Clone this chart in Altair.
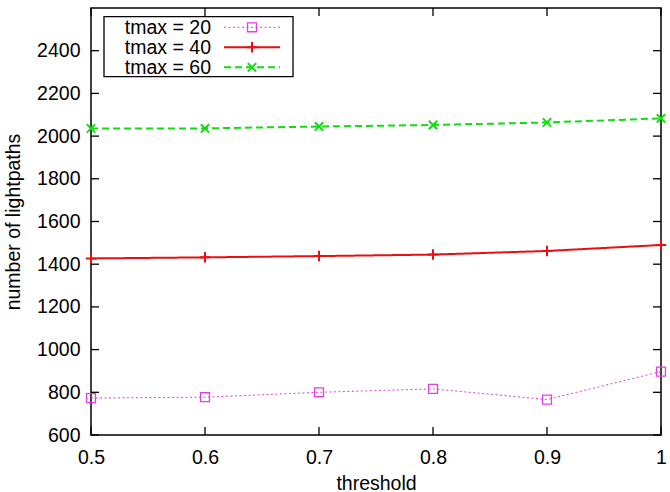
import altair as alt
import pandas as pd

thresholds = [0.5, 0.6, 0.7, 0.8, 0.9, 1.0]
tmax20 = [773, 777, 800, 816, 766, 897]
tmax40 = [1427, 1432, 1438, 1445, 1462, 1490]
tmax60 = [2036, 2036, 2045, 2052, 2064, 2083]
series_labels = ["tmax = 20", "tmax = 40", "tmax = 60"]
y_ticks = [600, 800, 1000, 1200, 1400, 1600, 1800, 2000, 2200, 2400]
x_ticks = [0.5, 0.6, 0.7, 0.8, 0.9, 1.0]

FONT = "Liberation Sans"
FS = 19.5
W, H = 570, 427

styles = [
    dict(color="#e040e0", dash=[2, 2.5], width=1.0, shape="square", size=80, sw=1.3),
    dict(color="#e81010", dash=[1, 0], width=2.0, shape="M-1,0L1,0M0,-1L0,1", size=110, sw=2),
    dict(color="#11dd11", dash=[7, 4], width=2.0, shape="M-1,-1L1,1M-1,1L1,-1", size=70, sw=2),
]
values = [tmax20, tmax40, tmax60]

xs = alt.Scale(domain=[0.5, 1.0], nice=False, zero=False)
ys = alt.Scale(domain=[600, 2600], nice=False, zero=False)

label_expr = "datum.value == 1 ? '1' : format(datum.value, '.1f')"
x_axis = alt.Axis(values=x_ticks, labelExpr=label_expr, ticks=False, domain=False, grid=False,
                  labelFlush=False, labelOverlap=False,
                  labelFont=FONT, labelFontSize=FS, labelColor="black", labelPadding=13,
                  title="threshold", titleFont=FONT, titleFontSize=FS, titleFontWeight="normal",
                  titleColor="black", titleY=39, titleBaseline="top")
y_axis = alt.Axis(values=y_ticks, format="d", ticks=False, domain=False, grid=False,
                  labelFlush=False, labelOverlap=False,
                  labelFont=FONT, labelFontSize=FS, labelColor="black", labelPadding=11,
                  title="number of lightpaths", titleFont=FONT, titleFontSize=FS,
                  titleFontWeight="normal", titleColor="black", titleX=-78, titleY=213.5,
                  titleBaseline="middle", titleAngle=-90)

X = alt.X("threshold:Q", scale=xs, axis=x_axis)
Y = alt.Y("value:Q", scale=ys, axis=y_axis)

layers = []
for lab, vals, st in zip(series_labels, values, styles):
    df = pd.DataFrame({"threshold": thresholds, "value": vals, "series": lab})
    layers.append(alt.Chart(df).mark_line(color=st["color"], strokeDash=st["dash"],
                                          strokeWidth=st["width"], clip=False).encode(x=X, y=Y))
    layers.append(alt.Chart(df).mark_point(shape=st["shape"], size=st["size"], filled=False,
                                           color=st["color"], strokeWidth=st["sw"], opacity=1,
                                           clip=False).encode(x=X, y=Y))

# inward ticks (gnuplot style), mirrored
yt = pd.DataFrame({"value": y_ticks})
xt = pd.DataFrame({"threshold": x_ticks})
TL = 8
layers.append(alt.Chart(yt).mark_rule(color="black", strokeWidth=1.3).encode(
    y=Y, x=alt.value(0), x2=alt.value(TL)))
layers.append(alt.Chart(yt).mark_rule(color="black", strokeWidth=1.3).encode(
    y=Y, x=alt.value(W - TL), x2=alt.value(W)))
layers.append(alt.Chart(xt).mark_rule(color="black", strokeWidth=1.3).encode(
    x=X, y=alt.value(H - TL), y2=alt.value(H)))
layers.append(alt.Chart(xt).mark_rule(color="black", strokeWidth=1.3).encode(
    x=X, y=alt.value(0), y2=alt.value(TL)))

# gnuplot-style legend box
one = pd.DataFrame({"a": [0]})
layers.append(alt.Chart(one).mark_rect(fill="white", stroke="black", strokeWidth=1.3).encode(
    x=alt.value(13), x2=alt.value(202), y=alt.value(8.7), y2=alt.value(68.7)))
row_y = [19.3, 39.3, 59.3]
for lab, st, ry in zip(series_labels, styles, row_y):
    layers.append(alt.Chart(one).mark_text(text=lab, align="right", baseline="middle",
                                           font=FONT, fontSize=FS, color="black").encode(
        x=alt.value(120), y=alt.value(ry + 1)))
    layers.append(alt.Chart(one).mark_rule(color=st["color"], strokeDash=st["dash"],
                                           strokeWidth=st["width"]).encode(
        x=alt.value(133), x2=alt.value(189), y=alt.value(ry)))
    layers.append(alt.Chart(one).mark_point(shape=st["shape"], size=st["size"], filled=False,
                                            color=st["color"], strokeWidth=st["sw"],
                                            opacity=1).encode(
        x=alt.value(161), y=alt.value(ry)))

chart = alt.layer(*layers).properties(
    width=W, height=H,
    autosize=alt.AutoSizeParams(type="none"),
    padding={"left": 91, "top": 8, "right": 9, "bottom": 57},
    background="white",
).configure_view(stroke="black", strokeWidth=1.5)

chart.save("out.html", embed_options={"renderer": "svg", "actions": False})
